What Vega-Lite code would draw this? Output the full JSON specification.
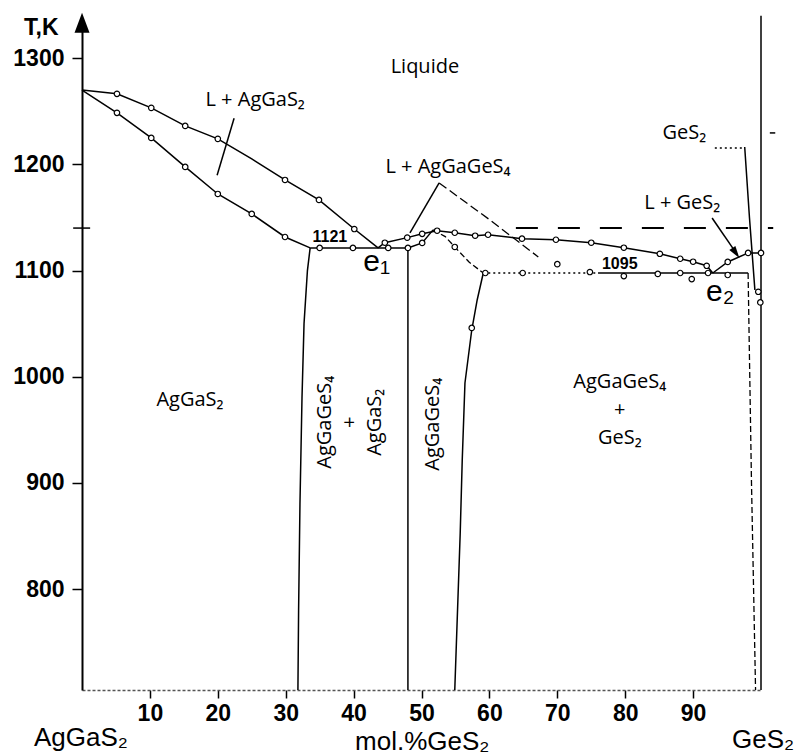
{
  "$schema": "https://vega.github.io/schema/vega-lite/v6.json",
  "autosize": "none",
  "width": 679,
  "height": 669,
  "padding": {"left": 82, "top": 21, "right": 38, "bottom": 65},
  "background": "white",
  "config": {"view": {"stroke": null}},
  "datasets": {
    "solid": [
      {"id": "A", "x": 0, "T": 1270}, {"id": "A", "x": 5.15, "T": 1266.4}, {"id": "A", "x": 10.2, "T": 1253.2}, {"id": "A", "x": 15.2, "T": 1236.2}, {"id": "A", "x": 20, "T": 1224}, {"id": "A", "x": 25, "T": 1205.1}, {"id": "A", "x": 29.9, "T": 1185.3}, {"id": "A", "x": 34.9, "T": 1166.5}, {"id": "A", "x": 40.1, "T": 1139.1}, {"id": "A", "x": 43.6, "T": 1121.3},
      {"id": "B", "x": 0, "T": 1270}, {"id": "B", "x": 5.15, "T": 1248.5}, {"id": "B", "x": 10.2, "T": 1224.9}, {"id": "B", "x": 15.2, "T": 1197.6}, {"id": "B", "x": 20, "T": 1172.1}, {"id": "B", "x": 25, "T": 1153.3}, {"id": "B", "x": 29.9, "T": 1131.6}, {"id": "B", "x": 33.6, "T": 1121.3},
      {"id": "C", "x": 33.6, "T": 1121.3}, {"id": "C", "x": 33.2, "T": 1100}, {"id": "C", "x": 32.7, "T": 1050}, {"id": "C", "x": 32.4, "T": 980}, {"id": "C", "x": 32.1, "T": 880}, {"id": "C", "x": 31.9, "T": 780}, {"id": "C", "x": 31.8, "T": 705},
      {"id": "D", "x": 33.6, "T": 1121.3}, {"id": "D", "x": 48, "T": 1121.3},
      {"id": "E", "x": 48, "T": 1121.3}, {"id": "E", "x": 48, "T": 705},
      {"id": "F", "x": 48, "T": 1121.3}, {"id": "F", "x": 50.1, "T": 1126}, {"id": "F", "x": 51.7, "T": 1138.3},
      {"id": "G", "x": 59.1, "T": 1097.7}, {"id": "G", "x": 58.2, "T": 1072.3}, {"id": "G", "x": 57.4, "T": 1044}, {"id": "G", "x": 56.4, "T": 994.1}, {"id": "G", "x": 56, "T": 921.5}, {"id": "G", "x": 55.7, "T": 852.7}, {"id": "G", "x": 54.9, "T": 705},
      {"id": "H", "x": 43.6, "T": 1121.3}, {"id": "H", "x": 44.6, "T": 1126.2}, {"id": "H", "x": 47.9, "T": 1131}, {"id": "H", "x": 50.1, "T": 1134.6}, {"id": "H", "x": 52.3, "T": 1137.5}, {"id": "H", "x": 54.9, "T": 1135.6}, {"id": "H", "x": 57.9, "T": 1132.8}, {"id": "H", "x": 59.8, "T": 1133.7}, {"id": "H", "x": 64.8, "T": 1130}, {"id": "H", "x": 69.8, "T": 1129}, {"id": "H", "x": 75, "T": 1126.2}, {"id": "H", "x": 79.8, "T": 1121.5}, {"id": "H", "x": 85.1, "T": 1115.8}, {"id": "H", "x": 88.1, "T": 1111.1}, {"id": "H", "x": 90, "T": 1108.3}, {"id": "H", "x": 92, "T": 1104.5}, {"id": "H", "x": 92.9, "T": 1097.7},
      {"id": "I", "x": 76, "T": 1097.7}, {"id": "I", "x": 98.1, "T": 1097.7},
      {"id": "J", "x": 92.9, "T": 1097.7}, {"id": "J", "x": 95.1, "T": 1108.1}, {"id": "J", "x": 98.1, "T": 1116.6}, {"id": "J", "x": 100, "T": 1116.6},
      {"id": "K", "x": 100, "T": 705}, {"id": "K", "x": 100, "T": 1340},
      {"id": "L", "x": 97.6, "T": 1216.4}, {"id": "L", "x": 98.3, "T": 1150}, {"id": "L", "x": 99.1, "T": 1081.7},
      {"id": "M", "x": 48.3, "T": 1135.4}, {"id": "M", "x": 52.6, "T": 1182.5},
      {"id": "N", "x": 22.4, "T": 1243.5}, {"id": "N", "x": 19.9, "T": 1189.8},
      {"id": "O", "x": 92.8, "T": 1149.5}, {"id": "O", "x": 96.5, "T": 1115},
      {"id": "P", "x": -1.3, "T": 1140}, {"id": "P", "x": 1.2, "T": 1140},
      {"id": "Q", "x": 101.3, "T": 1229.6}, {"id": "Q", "x": 102.1, "T": 1229.6}
    ],
    "dashShort": [
      {"id": "R", "x": 51.7, "T": 1138.3}, {"id": "R", "x": 53.5, "T": 1132}, {"id": "R", "x": 54.9, "T": 1122.2}, {"id": "R", "x": 57, "T": 1108}, {"id": "R", "x": 59.1, "T": 1097.7},
      {"id": "U", "x": 98.1, "T": 1097.7}, {"id": "U", "x": 98.6, "T": 900}, {"id": "U", "x": 99.2, "T": 705}
    ],
    "dashMed": [
      {"id": "S", "x": 52.6, "T": 1182.5}, {"id": "S", "x": 60, "T": 1148}, {"id": "S", "x": 67.2, "T": 1112.8}
    ],
    "dashLong": [
      {"id": "T", "x": 63.9, "T": 1140}, {"id": "T", "x": 101.8, "T": 1140}
    ],
    "dotted": [
      {"id": "V", "x": 59.1, "T": 1097.7}, {"id": "V", "x": 76, "T": 1097.7},
      {"id": "W", "x": 93.2, "T": 1215.4}, {"id": "W", "x": 97.6, "T": 1215.4}
    ],
    "pts": [
      {"x": 5.15, "T": 1266.4}, {"x": 10.2, "T": 1253.2}, {"x": 15.2, "T": 1236.2}, {"x": 20, "T": 1224}, {"x": 29.9, "T": 1185.3}, {"x": 34.9, "T": 1166.5}, {"x": 40.1, "T": 1139.1},
      {"x": 5.15, "T": 1248.5}, {"x": 10.2, "T": 1224.9}, {"x": 15.2, "T": 1197.6}, {"x": 20, "T": 1172.1}, {"x": 25, "T": 1153.3}, {"x": 29.9, "T": 1131.6},
      {"x": 35, "T": 1121.3}, {"x": 39.9, "T": 1121.3}, {"x": 45.1, "T": 1121.3}, {"x": 48, "T": 1121.3}, {"x": 50.1, "T": 1126},
      {"x": 44.6, "T": 1126.2}, {"x": 47.9, "T": 1131}, {"x": 50.1, "T": 1134.6}, {"x": 52.3, "T": 1137.5}, {"x": 54.9, "T": 1135.6}, {"x": 57.9, "T": 1132.8}, {"x": 59.8, "T": 1133.7}, {"x": 64.8, "T": 1130}, {"x": 69.8, "T": 1129}, {"x": 75, "T": 1126.2}, {"x": 79.8, "T": 1121.5}, {"x": 85.1, "T": 1115.8}, {"x": 88.1, "T": 1111.1}, {"x": 90, "T": 1108.3}, {"x": 92, "T": 1104.5},
      {"x": 54.9, "T": 1122.2}, {"x": 57.4, "T": 1046},
      {"x": 59.4, "T": 1097.7}, {"x": 64.9, "T": 1097.7}, {"x": 74.8, "T": 1098.6}, {"x": 79.8, "T": 1094.8}, {"x": 84.8, "T": 1096.8}, {"x": 88.1, "T": 1097.7}, {"x": 92.2, "T": 1097.7}, {"x": 95.1, "T": 1095.8}, {"x": 70, "T": 1106}, {"x": 89.8, "T": 1092},
      {"x": 95.1, "T": 1108.1}, {"x": 98.1, "T": 1116.6}, {"x": 100, "T": 1116.6}, {"x": 99.6, "T": 1080}, {"x": 99.9, "T": 1070}
    ],
    "phase": [
      {"x": 50.5, "T": 1291.8, "label": "Liquide"},
      {"x": 25.5, "T": 1260.6, "label": "L + AgGaS₂"},
      {"x": 53.9, "T": 1197.6, "label": "L + AgGaGeS₄"},
      {"x": 88.7, "T": 1229.6, "label": "GeS₂"},
      {"x": 88.4, "T": 1163.7, "label": "L + GeS₂"},
      {"x": 15.9, "T": 978.1, "label": "AgGaS₂"},
      {"x": 79.2, "T": 995.0, "label": "AgGaGeS₄\n+\nGeS₂"}
    ],
    "rotated": [
      {"x": 35.8, "T": 957.1, "label": "AgGaGeS₄\n+\nAgGaS₂"},
      {"x": 51.7, "T": 955.2, "label": "AgGaGeS₄"}
    ],
    "nums": [
      {"x": 36.5, "T": 1131.6, "label": "1121"},
      {"x": 79.2, "T": 1106.2, "label": "1095"}
    ],
    "eut": [
      {"x": 43.4, "T": 1108, "label": "e₁"},
      {"x": 94, "T": 1079.8, "label": "e₂"}
    ],
    "ends": [
      {"x": -0.15, "T": 659.6, "label": "AgGaS₂"},
      {"x": 50.1, "T": 655.9, "label": "mol.%GeS₂"},
      {"x": 100.3, "T": 657.9, "label": "GeS₂"}
    ],
    "tk": [
      {"x": -6.0, "T": 1328.5, "label": "T,K"}
    ],
    "yarrow": [{"x": 0, "T": 1333.3}],
    "garrow": [{"x": 96.3, "T": 1116.5}]
  },
  "encoding": {
    "x": {"field": "x", "type": "quantitative", "scale": {"domain": [0, 100], "nice": false, "zero": false},
      "axis": {"values": [10, 20, 30, 40, 50, 60, 70, 80, 90], "format": "d", "title": null, "grid": false, "tickSize": 8, "tickColor": "black", "tickWidth": 1.5,
        "domainColor": "#555", "domainDash": [3, 2], "domainWidth": 1.5, "labelFont": "Liberation Sans", "labelFontSize": 23, "labelFontWeight": "bold", "labelColor": "black", "labelPadding": 4}},
    "y": {"field": "T", "type": "quantitative", "scale": {"domain": [705, 1335], "nice": false, "zero": false},
      "axis": {"values": [800, 900, 1000, 1100, 1200, 1300], "format": "d", "title": null, "grid": false, "tickSize": 10, "tickColor": "black", "tickWidth": 1.5,
        "domainColor": "black", "domainWidth": 2, "labelFont": "Liberation Sans", "labelFontSize": 23, "labelFontWeight": "bold", "labelColor": "black", "labelPadding": 8}}
  },
  "layer": [
    {"data": {"name": "solid"}, "mark": {"type": "line", "color": "black", "strokeWidth": 1.5}, "encoding": {"detail": {"field": "id"}}},
    {"data": {"name": "dashShort"}, "mark": {"type": "line", "color": "black", "strokeWidth": 1.3, "strokeDash": [6, 3]}, "encoding": {"detail": {"field": "id"}}},
    {"data": {"name": "dashMed"}, "mark": {"type": "line", "color": "black", "strokeWidth": 1.3, "strokeDash": [9, 4]}, "encoding": {"detail": {"field": "id"}}},
    {"data": {"name": "dashLong"}, "mark": {"type": "line", "color": "black", "strokeWidth": 2, "strokeDash": [22, 20]}, "encoding": {"detail": {"field": "id"}}},
    {"data": {"name": "dotted"}, "mark": {"type": "line", "color": "black", "strokeWidth": 1.3, "strokeDash": [2, 3]}, "encoding": {"detail": {"field": "id"}}},
    {"data": {"name": "pts"}, "mark": {"type": "point", "shape": "circle", "size": 30, "stroke": "black", "strokeWidth": 1.2, "fill": "white", "filled": false, "opacity": 1}},
    {"data": {"name": "yarrow"}, "mark": {"type": "point", "shape": "M0,-1L0.75,1L-0.75,1Z", "size": 400, "filled": true, "color": "black", "opacity": 1}},
    {"data": {"name": "garrow"}, "mark": {"type": "point", "shape": "M0,-1L0.6,1L-0.6,1Z", "size": 150, "filled": true, "color": "black", "opacity": 1, "angle": 145}},
    {"data": {"name": "phase"}, "mark": {"type": "text", "font": "Open Sans", "fontSize": 20, "color": "black", "align": "center", "baseline": "middle", "lineBreak": "\n", "lineHeight": 28}, "encoding": {"text": {"field": "label"}}},
    {"data": {"name": "rotated"}, "mark": {"type": "text", "font": "Open Sans", "fontSize": 20, "color": "black", "align": "center", "baseline": "middle", "angle": 270, "lineBreak": "\n", "lineHeight": 25}, "encoding": {"text": {"field": "label"}}},
    {"data": {"name": "nums"}, "mark": {"type": "text", "font": "Liberation Sans", "fontSize": 16, "fontWeight": "bold", "color": "black", "align": "center", "baseline": "middle"}, "encoding": {"text": {"field": "label"}}},
    {"data": {"name": "eut"}, "mark": {"type": "text", "font": "Liberation Sans", "fontSize": 30, "color": "black", "align": "center", "baseline": "middle"}, "encoding": {"text": {"field": "label"}}},
    {"data": {"name": "ends"}, "mark": {"type": "text", "font": "Liberation Sans", "fontSize": 26, "color": "black", "align": "center", "baseline": "middle"}, "encoding": {"text": {"field": "label"}}},
    {"data": {"name": "tk"}, "mark": {"type": "text", "font": "Liberation Sans", "fontSize": 23, "fontWeight": "bold", "color": "black", "align": "center", "baseline": "middle"}, "encoding": {"text": {"field": "label"}}}
  ]
}
